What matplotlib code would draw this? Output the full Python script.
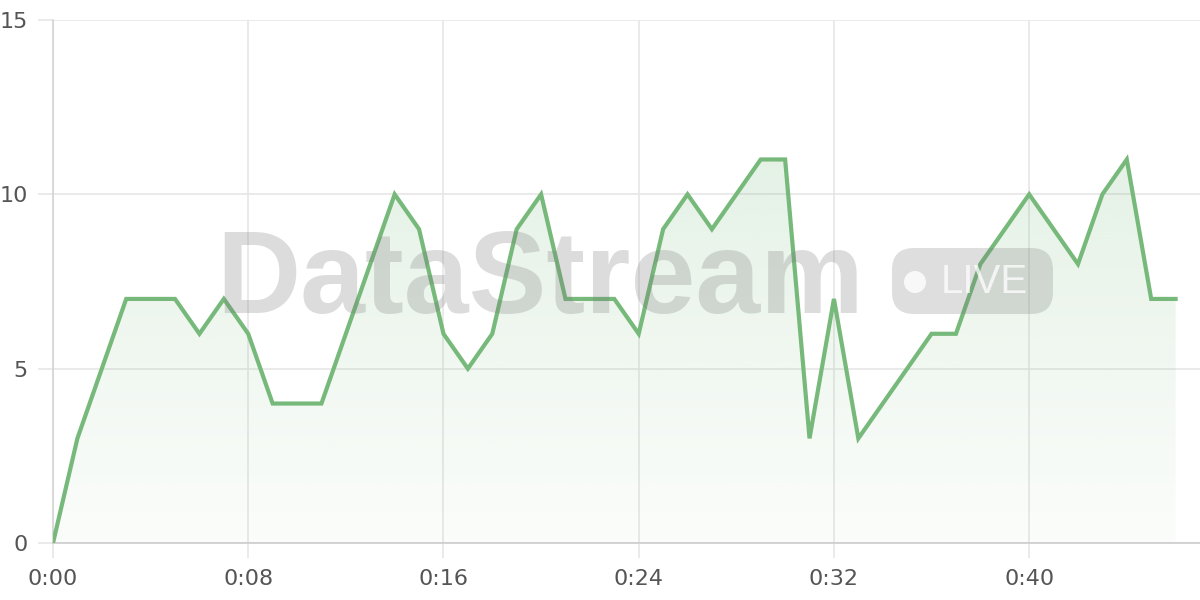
import numpy as np
import matplotlib.pyplot as plt
from matplotlib.patches import FancyBboxPatch, Circle
from matplotlib.transforms import IdentityTransform

# seconds since start and the value at each second
seconds = list(range(47))
values = [0, 3, 5, 7, 7, 7, 6, 7, 6, 4,
          4, 4, 6, 8, 10, 9, 6, 5, 6, 9,
          10, 7, 7, 7, 6, 9, 10, 9, 10, 11,
          11, 3, 7, 3, 4, 5, 6, 6, 8, 9,
          10, 9, 8, 10, 11, 7, 7]
x_ticks = [0, 8, 16, 24, 32, 40]
x_labels = ['0:00', '0:08', '0:16', '0:24', '0:32', '0:40']
y_ticks = [0, 5, 10, 15]

line_color = '#76b97a'
grid_color = '#e6e6e6'
text_color = '#555555'

fig = plt.figure(figsize=(12, 6), dpi=100)
ax = fig.add_axes([53 / 1200, 57 / 600, 1 - 53 / 1200, (543 - 20) / 600])

ax.set_xlim(0, 47)
ax.set_ylim(0, 15)

# gradient fill under the line
poly = ax.fill_between(seconds, values, 0, color='none', lw=0)
grad = np.linspace(0.03, 0.25, 256).reshape(-1, 1)
rgba = np.zeros((256, 1, 4))
rgba[..., 0] = 0x76 / 255
rgba[..., 1] = 0xb9 / 255
rgba[..., 2] = 0x7a / 255
rgba[..., 3] = grad
img = ax.imshow(rgba, extent=[0, 47, 0, 15], origin='lower', aspect='auto', zorder=1)
img.set_clip_path(poly.get_paths()[0], transform=ax.transData)

ax.plot(seconds, values, color=line_color, lw=3, zorder=3, solid_joinstyle='miter')

# grid and axes styling
ax.set_xticks(x_ticks)
ax.set_xticklabels(x_labels)
ax.set_yticks(y_ticks)
ax.grid(True, color=grid_color, lw=1.2, zorder=0)
ax.set_axisbelow(True)
for s in ['top', 'right']:
    ax.spines[s].set_visible(False)
ax.spines['left'].set_color('#d4d4d4')
ax.spines['bottom'].set_color('#cccccc')
ax.spines['left'].set_linewidth(1.2)
ax.spines['bottom'].set_linewidth(1.2)
ax.tick_params(axis='both', colors=grid_color, length=11, width=1.2,
               labelcolor=text_color, labelsize=16)
ax.tick_params(axis='x', pad=8)
ax.tick_params(axis='y', pad=7)

# watermark (pixel coordinates, origin bottom-left)
px = IdentityTransform()
fig.text(540, 287, 'DataStream', transform=px, fontsize=84, fontweight='bold',
         family='Liberation Sans', color='#777777', alpha=0.25, ha='center',
         va='baseline', zorder=5)
fig.patches.append(FancyBboxPatch((892, 600 - 314), 161, 66,
                                  boxstyle='round,pad=0,rounding_size=22',
                                  transform=px, facecolor='#777777',
                                  edgecolor='none', alpha=0.24, zorder=5, figure=fig))
fig.patches.append(Circle((915, 600 - 282), 11, transform=px, facecolor='white',
                          alpha=0.8, edgecolor='none', zorder=6, figure=fig))
fig.text(984, 600 - 293, 'LIVE', transform=px, fontsize=29, family='Liberation Sans',
         color='white', alpha=0.75, ha='center', va='baseline', zorder=6)

fig.savefig('out.png', dpi=100)
